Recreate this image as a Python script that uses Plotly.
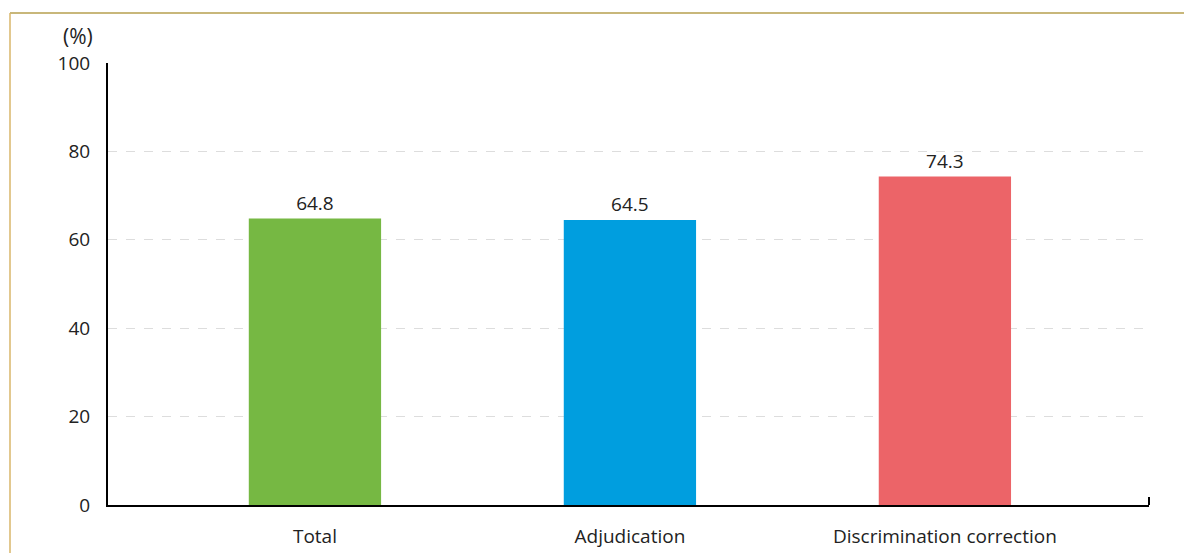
import plotly.graph_objects as go

categories = ["Total", "Adjudication", "Discrimination correction"]
values = [64.8, 64.5, 74.3]
colors = ["#76B843", "#009EDF", "#EC6468"]
y_ticks = [0, 20, 40, 60, 80, 100]

W, H = 1184, 553
L, R, T, B = 108, 35, 63, 48
pw, ph = W - L - R, H - T - B

fig = go.Figure(go.Bar(
    x=categories, y=values, marker=dict(color=colors, line=dict(width=0)),
    width=0.42, text=[f"{v:.1f}" for v in values], textposition="outside",
    textfont=dict(size=19, color="#222222", family="Open Sans"), cliponaxis=False,
))

fig.update_layout(
    width=W, height=H, margin=dict(l=L, r=R, t=T, b=B),
    plot_bgcolor="white", paper_bgcolor="white", showlegend=False,
    font=dict(family="Open Sans", size=19, color="#222222"),
    xaxis=dict(range=[-0.657, 2.648], showline=True, linecolor="black", linewidth=2,
               showgrid=False, ticks="", tickfont=dict(size=19), ticklabelstandoff=13,
               automargin=False),
    yaxis=dict(range=[0, 100], tickvals=y_ticks, showline=True, linecolor="black", linewidth=2,
               showgrid=True, gridcolor="#DDDDDD", griddash="dash", gridwidth=1,
               zeroline=False, ticks="", tickfont=dict(size=19), ticklabelstandoff=12,
               automargin=False),
    shapes=[
        dict(type="line", xref="paper", yref="paper", x0=1, x1=1, y0=0, y1=8 / ph,
             line=dict(color="black", width=2)),
        dict(type="line", xref="paper", yref="paper", x0=(10 - L) / pw, x1=(W + 5 - L) / pw,
             y0=1 + (T - 13) / ph, y1=1 + (T - 13) / ph, line=dict(color="#C8B77A", width=2)),
        dict(type="line", xref="paper", yref="paper", x0=(10 - L) / pw, x1=(10 - L) / pw,
             y0=1 + (T - 13) / ph, y1=-(B + 10) / ph, line=dict(color="#D8B66A", width=1.5)),
    ],
    annotations=[
        dict(text="(%)", xref="paper", yref="paper", x=(94 - L) / pw, y=1 + (T - 36) / ph,
             xanchor="right", yanchor="middle", showarrow=False, font=dict(size=21),
             borderpad=0),
    ],
)

fig.write_html("out.html")
